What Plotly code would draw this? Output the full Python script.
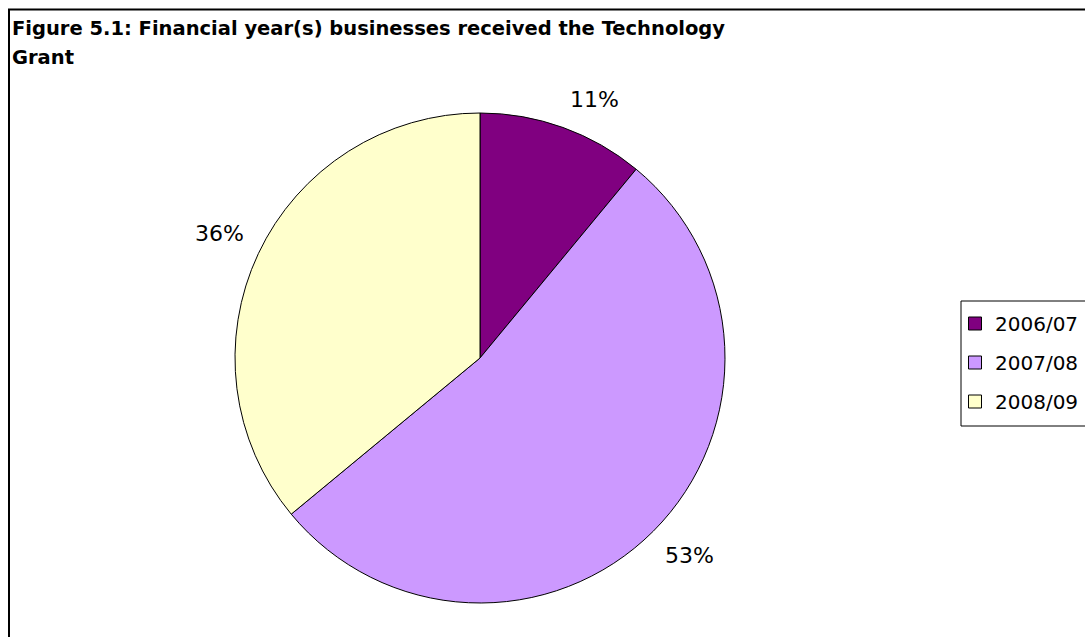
import numpy as np
import plotly.graph_objects as go

W, H = 1085, 637

years = ["2006/07", "2007/08", "2008/09"]
shares = [11, 53, 36]
colors = ["#800080", "#CC99FF", "#FFFFCC"]

title_lines = [
    "Figure 5.1: Financial year(s) businesses received the Technology",
    "Grant",
]

# pie geometry in pixels (centre and radius)
cx, cy, r = 480, 358, 245
label_gap = 14

fig = go.Figure()

fig.add_trace(
    go.Pie(
        labels=years,
        values=shares,
        sort=False,
        direction="clockwise",
        rotation=0,
        marker=dict(colors=colors, line=dict(color="black", width=1)),
        textinfo="none",
        domain=dict(x=[(cx - r) / W, (cx + r) / W], y=[1 - (cy + r) / H, 1 - (cy - r) / H]),
        showlegend=False,
        hoverinfo="label+percent",
    )
)

# legend entries: one square swatch per year
for yr, col in zip(years, colors):
    fig.add_trace(
        go.Scatter(
            x=[None], y=[None], mode="markers", name=yr, legendgroup=yr,
            marker=dict(symbol="square", size=13, color=col, line=dict(color="black", width=1)),
            showlegend=True, hoverinfo="skip",
        )
    )

# percentage labels placed just outside each slice's mid-angle
total = float(sum(shares))
ends = np.cumsum(shares) / total
starts = ends - np.array(shares) / total
mids = (starts + ends) / 2 * 2 * np.pi  # clockwise from 12 o'clock
annotations = []
for share, a in zip(shares, mids):
    s, c = np.sin(a), np.cos(a)
    px = cx + (r + label_gap) * s
    py = cy - (r + label_gap) * c
    annotations.append(dict(
        text=f"{share / total:.0%}", xref="paper", yref="paper",
        x=px / W, y=1 - py / H,
        xanchor="left" if s >= 0 else "right",
        yanchor="bottom" if c >= 0 else "top",
        showarrow=False,
        font=dict(family="DejaVu Sans", size=22, color="black"),
    ))

annotations.append(dict(
    text="<b>" + title_lines[0] + "</b>",
    xref="paper", yref="paper", x=10 / W, y=1 - 15 / H,
    xanchor="left", yanchor="top", align="left", showarrow=False,
    font=dict(family="DejaVu Sans", size=19.5, color="black"),
))
annotations.append(dict(
    text="<b>" + title_lines[1] + "</b>",
    xref="paper", yref="paper", x=10 / W, y=1 - 44 / H,
    xanchor="left", yanchor="top", align="left", showarrow=False,
    font=dict(family="DejaVu Sans", size=19.5, color="black"),
))

shapes = [
    # outer chart frame
    dict(type="rect", xref="paper", yref="paper",
         x0=9 / W, x1=1.05, y0=-0.05, y1=1 - 9.5 / H,
         line=dict(color="black", width=2), fillcolor="rgba(0,0,0,0)", layer="below"),
    # legend frame
    dict(type="rect", xref="paper", yref="paper",
         x0=961 / W, x1=1.05, y0=1 - 426 / H, y1=1 - 301 / H,
         line=dict(color="black", width=1), fillcolor="rgba(0,0,0,0)"),
]

fig.update_layout(
    width=W, height=H,
    margin=dict(l=0, r=0, t=0, b=0),
    paper_bgcolor="white",
    plot_bgcolor="white",
    xaxis=dict(visible=False),
    yaxis=dict(visible=False),
    showlegend=True,
    legend=dict(
        x=955 / W, xanchor="left", y=1 - 304 / H, yanchor="top",
        font=dict(family="DejaVu Sans", size=20, color="black"),
        bgcolor="rgba(0,0,0,0)", borderwidth=0,
        itemwidth=30, tracegroupgap=10,
    ),
    shapes=shapes,
    annotations=annotations,
)

fig.write_html("out.html")
